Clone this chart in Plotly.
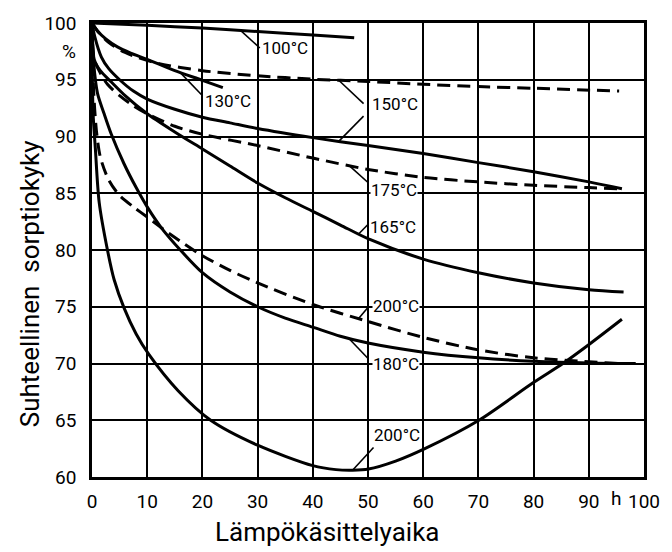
import numpy as np
import plotly.graph_objects as go

# Treatment time (h) and relative sorption capacity (%) per temperature
t100_x = [0, 10, 20, 30, 40, 47.5]
t100_y = [100, 99.8, 99.55, 99.25, 98.95, 98.7]

t130_x = [0, 1, 2.5, 4.6, 7, 10, 15, 20, 23.7]
t130_y = [100, 99.3, 98.6, 97.9, 97.35, 96.8, 95.8, 94.95, 94.3]

t150s_x = [0, 0.5, 1.7, 3, 5, 7.5, 10, 15, 20, 25, 30, 40, 50, 60, 70, 80, 90, 96]
t150s_y = [100, 98.8, 97.0, 96.0, 95.0, 94.0, 93.3, 92.4, 91.7, 91.2, 90.7, 89.9, 89.2, 88.5, 87.7, 86.9, 86.0, 85.4]

t150d_x = [0, 1, 3, 6, 11.5, 20, 30, 40, 50, 60, 70, 80, 95.5]
t150d_y = [100, 99.3, 98.3, 97.4, 96.5, 95.8, 95.35, 95.05, 94.85, 94.6, 94.4, 94.25, 94.0]

t165_x = [0, 0.4, 1.5, 3.5, 6, 10, 15, 20, 25, 30, 35, 40, 45, 50, 60, 70, 80, 90, 96.3]
t165_y = [100, 96.8, 95.8, 94.8, 93.6, 92.0, 90.4, 88.9, 87.4, 85.9, 84.6, 83.4, 82.2, 81.0, 79.2, 78.0, 77.1, 76.5, 76.3]

t175_x = [0, 0.4, 1.5, 2.8, 5, 7.5, 10, 15, 20, 30, 40, 50, 60, 70, 80, 90, 95.4]
t175_y = [100, 96.8, 95.6, 94.6, 93.6, 92.7, 92.0, 90.9, 90.2, 89.2, 88.1, 87.1, 86.4, 86.0, 85.7, 85.5, 85.4]

t180_x = [0, 0.3, 1, 2.2, 3.5, 5.8, 8, 10, 12.5, 16, 20, 25, 30, 35, 40, 45, 50, 60, 70, 80, 90, 98.5]
t180_y = [100, 96.5, 93.8, 92.0, 90.2, 87.6, 85.5, 83.8, 82.0, 80.0, 78.0, 76.3, 75.0, 74.0, 73.2, 72.4, 71.8, 71.0, 70.5, 70.2, 70.05, 70.0]

t200d_x = [0, 0.3, 0.8, 1.5, 3, 5, 7.5, 10, 13, 16.5, 20, 25, 30, 40, 50, 60, 70, 80, 95.4]
t200d_y = [100, 94, 90.5, 88.2, 86.2, 84.8, 83.8, 82.9, 81.8, 80.6, 79.5, 78.2, 77.1, 75.2, 73.7, 72.3, 71.2, 70.5, 70.0]

t200s_x = [0, 0.05, 0.2, 0.6, 1.3, 2.8, 4, 5.8, 8, 10.3, 15.6, 21.5, 30, 40, 44.2, 47.2, 50.1, 55, 60.3, 70.1, 79.9, 85.3, 90.1, 96]
t200s_y = [100, 96, 92, 89, 84.2, 80, 77.4, 74.9, 72.6, 70.8, 67.6, 65.0, 62.8, 61.0, 60.65, 60.6, 60.7, 61.4, 62.5, 65.0, 68.3, 70.0, 71.7, 73.9]

# Curve labels: text, label centre, leader start (on curve) and leader end
label_text = ["100°C", "130°C", "150°C", "150°C", "175°C", "165°C", "200°C", "180°C", "200°C"]
label_x = [34.9, 24.6, 54.9, None, 54.7, 54.6, 55.1, 55.1, 55.3]
label_y = [97.8, 93.1, 92.9, None, 85.3, 82.0, 75.1, 70.0, 63.7]
leader_curve = ["t100", "t130", "t150d", "t150s", "t175", "t165", "t200d", "t180", "t200s"]
leader_from_x = [26.9, 16.0, 44.7, 44.7, 46.6, 48.3, 48.3, 46.5, 47.2]
leader_to_x = [30.4, 19.8, 49.2, 49.2, 50.1, 49.9, 50.1, 50.1, 51.0]
leader_to_y = [97.8, 93.7, 92.9, 91.8, 85.9, 82.2, 75.0, 70.4, 62.6]

x_ticks = [0, 10, 20, 30, 40, 50, 60, 70, 80, 90, 100]
y_ticks = [60, 65, 70, 75, 80, 85, 90, 95, 100]

curves = {
    "t100": (t100_x, t100_y, "solid"),
    "t130": (t130_x, t130_y, "solid"),
    "t150s": (t150s_x, t150s_y, "solid"),
    "t150d": (t150d_x, t150d_y, "dash"),
    "t165": (t165_x, t165_y, "solid"),
    "t175": (t175_x, t175_y, "dash"),
    "t180": (t180_x, t180_y, "solid"),
    "t200d": (t200d_x, t200d_y, "dash"),
    "t200s": (t200s_x, t200s_y, "solid"),
}

FONT = "Roboto"
fig = go.Figure()

for name, (xs, ys, style) in curves.items():
    fig.add_trace(go.Scatter(
        x=xs, y=ys, mode="lines",
        line=dict(color="black", width=3, shape="spline", smoothing=0.8,
                  dash="13px,7px" if style == "dash" else "solid"),
        hoverinfo="skip", showlegend=False,
    ))

# Leader lines from each curve to its temperature label
for cname, fx, tx, ty in zip(leader_curve, leader_from_x, leader_to_x, leader_to_y):
    xs, ys, _ = curves[cname]
    fy = float(np.interp(fx, xs, ys))
    fig.add_trace(go.Scatter(
        x=[fx, tx], y=[fy, ty], mode="lines",
        line=dict(color="black", width=1.6),
        hoverinfo="skip", showlegend=False,
    ))

for txt, lx, ly in zip(label_text, label_x, label_y):
    if lx is None:
        continue
    fig.add_annotation(x=lx, y=ly, xref="x", yref="y", text=txt, showarrow=False,
                       font=dict(family=FONT, size=17, color="black"),
                       xanchor="center", yanchor="middle", bgcolor="white", borderpad=0)

# Unit marks on the axes
fig.add_annotation(x=0, y=97.5, xref="x", yref="y", text="%", showarrow=False,
                   xanchor="right", yanchor="middle", xshift=-14,
                   font=dict(family=FONT, size=19, color="black"))
fig.add_annotation(x=95.0, y=0, xref="x", yref="paper", text="h", showarrow=False,
                   xanchor="center", yanchor="top", yshift=-8,
                   font=dict(family=FONT, size=19, color="black"))

# Axis titles
fig.add_annotation(x=-0.112, y=0.425, xref="paper", yref="paper",
                   text="Suhteellinen  sorptiokyky", showarrow=False, textangle=-90,
                   xanchor="center", yanchor="middle",
                   font=dict(family=FONT, size=26, color="black"))
fig.add_annotation(x=0.426, y=-0.121, xref="paper", yref="paper",
                   text="Lämpökäsittelyaika", showarrow=False,
                   xanchor="center", yanchor="middle",
                   font=dict(family=FONT, size=26, color="black"))

axis_common = dict(
    showgrid=True, gridcolor="black", gridwidth=2,
    showline=True, linecolor="black", linewidth=2.5, mirror=True,
    zeroline=False, ticks="",
    tickfont=dict(family=FONT, size=19, color="black"),
)

fig.update_layout(
    width=672, height=552,
    margin=dict(l=92, r=20, t=18, b=75),
    paper_bgcolor="white", plot_bgcolor="white",
    xaxis=dict(range=[0, 100], tickvals=x_ticks, ticktext=[str(v) for v in x_ticks],
               ticklabelstandoff=5, **axis_common),
    yaxis=dict(range=[60, 100], tickvals=y_ticks, ticktext=[str(v) for v in y_ticks],
               ticklabelstandoff=9, **axis_common),
)

fig.write_html("out.html")
